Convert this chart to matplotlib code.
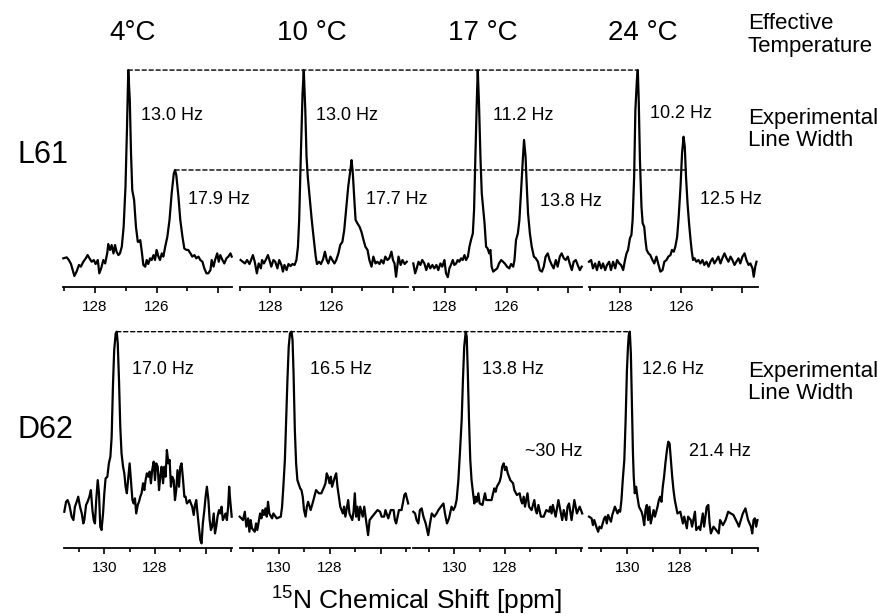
import matplotlib.pyplot as plt
import numpy as np
from matplotlib.patches import ConnectionPatch

plt.rcParams['font.family'] = ['Liberation Sans', 'DejaVu Sans']
plt.rcParams['mathtext.fontset'] = 'custom'
plt.rcParams['mathtext.rm'] = 'Liberation Sans'

# --- labels ---
temperatures = ['4°C', '10 °C', '17 °C', '24 °C']
residues = ['L61', 'D62']
l61_widths = [['13.0 Hz', '17.9 Hz'], ['13.0 Hz', '17.7 Hz'], ['11.2 Hz', '13.8 Hz'], ['10.2 Hz', '12.5 Hz']]
d62_widths = [['17.0 Hz'], ['16.5 Hz'], ['13.8 Hz', '~30 Hz'], ['12.6 Hz', '21.4 Hz']]

# ppm windows of each panel (left, right)
l61_windows = [(129.03, 123.56), (128.97, 123.51), (129.03, 123.57), (129.03, 123.49)]
d62_windows = [(131.58, 124.97), (131.53, 124.87), (131.62, 124.97), (131.46, 125.01)]

# --- spectra, (ppm, intensity) ---
l61_04 = [(129.03, 0.9), (128.92, 1.4), (128.85, 0.0), (128.78, -2.1), (128.74, -4.4), (128.67, -8.4),
          (128.60, -6.1), (128.52, -2.6), (128.46, -3.5), (128.38, -0.9), (128.30, 0.9), (128.24, 2.6),
          (128.18, 0.9), (128.11, -0.9), (128.04, 0.0), (127.98, -2.1), (127.91, 0.0), (127.86, -7.0),
          (127.80, -4.4), (127.73, 0.0), (127.67, -1.8), (127.60, 3.9), (127.57, 8.4), (127.51, 5.3),
          (127.46, 7.9), (127.40, 3.5), (127.35, 7.9), (127.30, 4.4), (127.24, 2.6), (127.19, 3.5),
          (127.13, 7.0), (127.07, 17.5), (127.01, 38.6), (126.96, 70.2), (126.92, 100.0), (126.87, 84.2),
          (126.83, 56.1), (126.79, 36.8), (126.73, 31.6), (126.67, 17.5), (126.61, 9.6), (126.57, 9.6),
          (126.53, 10.5), (126.48, 4.4), (126.43, -2.6), (126.37, -3.5), (126.32, 0.0), (126.27, -2.1),
          (126.21, 0.9), (126.16, 0.0), (126.10, 2.6), (126.05, 0.0), (126.00, 5.3), (125.94, 1.8),
          (125.89, 0.0), (125.83, 3.5), (125.78, 1.8), (125.72, 7.0), (125.65, 12.3), (125.58, 21.1),
          (125.51, 35.1), (125.44, 45.6), (125.40, 47.4), (125.36, 44.7), (125.29, 33.3), (125.23, 21.1),
          (125.16, 12.3), (125.10, 6.1), (125.03, 5.3), (124.97, 5.3), (124.90, 3.5), (124.84, 1.8),
          (124.77, 2.6), (124.71, 0.9), (124.64, 1.8), (124.58, 0.0), (124.51, -0.9), (124.45, -4.4),
          (124.38, -7.0), (124.32, -7.0), (124.25, -5.3), (124.21, 0.0), (124.15, -3.5), (124.10, 0.0),
          (124.03, 3.5), (123.98, -0.9), (123.93, 2.6), (123.86, 0.0), (123.80, -1.8), (123.73, 0.9),
          (123.67, 1.8), (123.60, 3.5), (123.56, 1.8)]

l61_10 = [(128.97, 0.0), (128.90, -0.9), (128.83, -1.8), (128.76, 0.0), (128.68, -2.1), (128.62, 0.4),
          (128.57, 2.6), (128.51, -0.9), (128.44, -7.0), (128.38, -1.8), (128.31, -4.4), (128.27, 0.0),
          (128.21, -1.8), (128.14, 0.4), (128.08, 2.6), (128.03, 0.0), (127.97, -3.5), (127.90, 0.0),
          (127.84, -0.9), (127.77, -4.4), (127.71, 0.0), (127.64, -2.6), (127.59, -6.1), (127.54, -2.6),
          (127.47, -5.3), (127.41, -2.1), (127.34, -3.2), (127.28, -2.1), (127.21, -2.6), (127.15, 0.0),
          (127.10, 7.0), (127.06, 21.1), (127.01, 52.6), (126.95, 87.7), (126.91, 100.0), (126.86, 78.9),
          (126.82, 54.4), (126.78, 43.9), (126.71, 31.6), (126.65, 21.1), (126.58, 10.5), (126.52, 1.8),
          (126.48, -2.1), (126.41, -0.9), (126.35, -2.1), (126.28, 0.4), (126.22, 4.4), (126.16, 0.0),
          (126.11, -1.8), (126.04, 1.8), (125.98, 0.0), (125.91, -1.8), (125.85, 0.0), (125.78, 3.5),
          (125.72, 7.9), (125.65, 9.6), (125.59, 15.8), (125.52, 28.1), (125.46, 38.6), (125.39, 47.4),
          (125.35, 52.6), (125.31, 45.6), (125.26, 31.6), (125.22, 21.1), (125.16, 19.3), (125.09, 17.5),
          (125.03, 14.9), (124.96, 10.5), (124.90, 7.0), (124.83, 5.3), (124.77, 0.0), (124.70, -3.5),
          (124.64, 1.8), (124.57, -1.8), (124.51, -0.9), (124.44, -2.1), (124.38, 0.0), (124.31, -1.8),
          (124.25, 1.8), (124.18, 0.0), (124.12, 0.9), (124.05, 4.4), (124.00, 0.0), (123.95, -1.8),
          (123.90, -8.8), (123.86, -3.5), (123.82, 1.8), (123.75, -2.6), (123.69, 0.0), (123.62, -2.1),
          (123.55, -0.9)]

l61_17 = [(129.03, -1.8), (128.97, -7.0), (128.92, -4.4), (128.86, -0.9), (128.80, -2.6), (128.74, 0.0),
          (128.67, -1.8), (128.61, -5.3), (128.54, -1.8), (128.48, -4.4), (128.41, -2.6), (128.35, -4.4),
          (128.28, -2.6), (128.22, -5.3), (128.15, -1.8), (128.09, -3.5), (128.02, 0.0), (127.97, -7.0),
          (127.91, -9.0), (127.86, -4.4), (127.81, -2.6), (127.75, 0.0), (127.70, -2.6), (127.64, -1.8),
          (127.59, 0.0), (127.54, -0.9), (127.48, 0.9), (127.43, 0.0), (127.37, 2.6), (127.32, 0.0),
          (127.26, 1.8), (127.21, 7.0), (127.16, 10.5), (127.10, 14.0), (127.06, 26.3), (127.02, 52.6),
          (126.97, 84.2), (126.94, 100.0), (126.90, 82.5), (126.85, 52.6), (126.81, 35.1), (126.77, 28.1),
          (126.72, 19.3), (126.67, 7.0), (126.62, 6.1), (126.57, 3.5), (126.53, 5.3), (126.49, -3.5),
          (126.44, -6.1), (126.38, -5.3), (126.31, -4.4), (126.25, -1.8), (126.18, 0.0), (126.12, -0.9),
          (126.05, -2.1), (125.99, -3.5), (125.92, -4.4), (125.86, -2.1), (125.79, -3.5), (125.75, 0.0),
          (125.70, 10.5), (125.64, 14.0), (125.59, 21.1), (125.54, 35.1), (125.48, 52.6), (125.44, 63.2),
          (125.39, 54.4), (125.35, 38.6), (125.31, 24.6), (125.25, 14.0), (125.19, 7.0), (125.12, 1.8),
          (125.06, 0.9), (124.99, -0.9), (124.93, -5.3), (124.86, -6.1), (124.80, -3.5), (124.74, 1.8),
          (124.67, 3.5), (124.61, 0.0), (124.54, -2.6), (124.48, -4.4), (124.41, 0.0), (124.35, -3.5),
          (124.28, 1.8), (124.22, 3.5), (124.15, 0.9), (124.09, 0.0), (124.02, 1.8), (123.96, -1.8),
          (123.89, -5.3), (123.83, -0.9), (123.76, 0.0), (123.70, -2.6), (123.63, -5.3), (123.57, -3.5)]

l61_24 = [(129.03, -0.9), (128.96, 0.0), (128.90, -4.4), (128.83, -1.8), (128.77, -5.3), (128.70, -0.9),
          (128.63, -4.4), (128.57, -1.8), (128.50, -5.3), (128.44, -2.6), (128.37, -0.9), (128.31, -5.3),
          (128.24, -0.9), (128.17, -4.4), (128.11, 0.0), (128.04, -1.8), (127.98, -2.6), (127.91, -5.3),
          (127.85, 0.0), (127.80, 3.5), (127.75, 5.3), (127.69, 11.4), (127.64, 13.2), (127.60, 21.1),
          (127.55, 43.9), (127.51, 78.9), (127.46, 94.7), (127.43, 100.0), (127.40, 84.2), (127.36, 52.6),
          (127.31, 28.1), (127.27, 19.3), (127.22, 17.5), (127.18, 10.5), (127.14, 5.3), (127.08, 3.5),
          (127.02, 2.6), (126.95, 0.0), (126.89, -1.8), (126.82, 1.8), (126.75, -2.6), (126.69, -6.1),
          (126.62, -5.3), (126.56, -0.9), (126.49, 0.0), (126.43, 1.8), (126.36, 2.6), (126.31, 5.3),
          (126.25, 4.4), (126.20, 7.0), (126.14, 12.3), (126.09, 22.8), (126.03, 38.6), (125.98, 56.1),
          (125.93, 64.9), (125.89, 59.6), (125.85, 43.9), (125.80, 29.8), (125.75, 19.3), (125.70, 10.5),
          (125.66, 4.4), (125.62, 0.0), (125.57, 0.9), (125.51, -0.9), (125.44, 0.0), (125.38, -1.8),
          (125.31, 0.0), (125.25, -2.6), (125.18, -0.9), (125.11, -3.5), (125.05, -0.9), (124.98, 0.9),
          (124.92, -1.8), (124.85, 0.0), (124.79, 1.8), (124.72, -1.8), (124.66, 0.9), (124.59, 3.5),
          (124.52, 0.9), (124.46, -0.9), (124.39, 1.8), (124.33, 0.0), (124.26, -2.6), (124.20, -0.9),
          (124.13, 0.9), (124.07, -1.8), (124.00, 1.8), (123.93, 3.5), (123.87, 0.0), (123.80, -2.6),
          (123.74, -1.8), (123.67, -4.4), (123.63, -8.8), (123.58, -3.5), (123.54, -0.9)]

d62_04 = [(131.58, 4.4), (131.51, 9.7), (131.45, 10.6), (131.38, 8.0), (131.29, 1.8), (131.22, 0.0),
          (131.16, 7.1), (131.09, 9.7), (131.03, 12.4), (130.96, 7.1), (130.89, 3.5), (130.83, -1.8),
          (130.79, 0.0), (130.72, 8.0), (130.66, 9.7), (130.59, 12.4), (130.53, 15.9), (130.47, 5.3),
          (130.42, 0.0), (130.37, -1.8), (130.32, 10.6), (130.26, 21.2), (130.21, 14.2), (130.16, -3.5),
          (130.11, -5.3), (130.05, 3.5), (130.00, 14.2), (129.95, 22.1), (129.88, 23.0), (129.82, 30.1),
          (129.76, 33.6), (129.71, 44.2), (129.66, 70.8), (129.61, 90.3), (129.55, 99.1), (129.51, 100.0),
          (129.47, 93.8), (129.42, 74.3), (129.37, 49.6), (129.32, 35.4), (129.26, 28.3), (129.21, 24.8),
          (129.16, 17.7), (129.11, 14.2), (129.05, 23.0), (129.00, 30.1), (128.95, 21.2), (128.89, 10.6),
          (128.84, 8.8), (128.79, 11.5), (128.74, 3.5), (128.68, 8.0), (128.63, 9.7), (128.58, 12.4),
          (128.53, 14.2), (128.47, 19.5), (128.42, 15.9), (128.37, 21.2), (128.32, 24.8), (128.26, 23.0),
          (128.21, 25.7), (128.16, 19.5), (128.11, 26.5), (128.05, 31.0), (128.00, 21.2), (127.95, 30.1),
          (127.89, 28.3), (127.84, 15.9), (127.79, 23.0), (127.74, 28.3), (127.68, 19.5), (127.63, 28.3),
          (127.58, 23.0), (127.53, 37.2), (127.47, 30.1), (127.42, 31.9), (127.37, 17.7), (127.32, 23.0),
          (127.26, 21.2), (127.21, 10.6), (127.16, 15.9), (127.11, 26.5), (127.05, 17.7), (127.00, 28.3),
          (126.95, 30.1), (126.89, 21.2), (126.84, 12.4), (126.79, 12.4), (126.74, 8.8), (126.68, 9.7),
          (126.63, 10.6), (126.58, 8.8), (126.53, 7.1), (126.47, 2.7), (126.42, 8.0), (126.37, 10.6),
          (126.32, 3.5), (126.26, -4.4), (126.21, -10.6), (126.16, -12.4), (126.11, -1.8), (126.05, 5.3),
          (126.00, 12.4), (125.95, 17.7), (125.89, 10.6), (125.84, 0.0), (125.79, -5.3), (125.74, -3.5),
          (125.68, 3.5), (125.63, -7.1), (125.58, -3.5), (125.53, 1.8), (125.47, 5.3), (125.42, 3.5),
          (125.37, 7.1), (125.32, 0.0), (125.26, 1.8), (125.21, 3.5), (125.16, 0.0), (125.11, 7.1),
          (125.07, 17.7), (125.03, 10.6), (124.97, 1.8)]

d62_10 = [(131.53, 1.8), (131.40, 0.0), (131.33, 4.4), (131.27, -3.5), (131.20, 0.9), (131.15, -6.2),
          (131.10, 0.0), (131.05, -4.4), (130.94, -6.2), (130.89, -1.8), (130.84, -5.3), (130.73, 3.5),
          (130.68, 0.9), (130.63, 5.3), (130.58, 2.7), (130.52, 6.2), (130.47, 1.8), (130.42, 9.7),
          (130.37, 3.5), (130.26, 0.9), (130.21, 3.5), (130.08, 0.9), (129.92, 1.8), (129.87, 7.1),
          (129.82, 17.7), (129.76, 31.9), (129.71, 53.1), (129.66, 74.3), (129.61, 92.0), (129.56, 99.1),
          (129.50, 100.0), (129.46, 95.6), (129.42, 77.9), (129.37, 47.8), (129.32, 30.1), (129.27, 21.2),
          (129.16, 16.8), (129.11, 15.9), (129.06, 12.4), (129.01, 5.3), (128.95, 1.8), (128.90, 7.1),
          (128.85, 9.7), (128.75, 5.3), (128.64, 10.6), (128.54, 15.9), (128.43, 14.2), (128.33, 14.2),
          (128.22, 17.7), (128.17, 19.5), (128.12, 24.8), (128.07, 23.0), (128.01, 19.5), (127.96, 23.0),
          (127.91, 17.7), (127.80, 23.0), (127.75, 24.8), (127.70, 17.7), (127.59, 7.1), (127.49, 3.5),
          (127.44, 7.1), (127.39, 1.8), (127.28, 10.6), (127.23, 3.5), (127.12, 0.0), (127.07, 4.4),
          (127.02, 14.2), (126.97, 1.8), (126.92, 7.1), (126.86, 0.0), (126.81, 7.1), (126.71, 1.8),
          (126.65, 7.1), (126.60, 1.8), (126.50, -8.0), (126.44, 0.0), (126.34, 1.8), (126.24, 3.5),
          (126.13, 5.3), (126.03, 4.4), (125.97, 1.8), (125.87, 1.8), (125.82, 5.3), (125.71, 0.9),
          (125.61, 5.3), (125.50, 5.3), (125.45, 0.0), (125.40, -1.8), (125.29, 5.3), (125.19, 5.3),
          (125.14, 8.8), (125.08, 13.3), (125.03, 14.2), (124.93, 8.8)]

d62_17 = [(131.62, 4.4), (131.55, 3.5), (131.49, 0.0), (131.42, -1.8), (131.36, 5.3), (131.29, 6.2),
          (131.22, 1.8), (131.13, -1.8), (131.03, -8.0), (130.96, -1.8), (130.89, 3.5), (130.79, 1.8),
          (130.70, 3.5), (130.63, 5.3), (130.53, 7.1), (130.43, 8.8), (130.37, 3.5), (130.29, -1.8),
          (130.21, 0.9), (130.11, 7.1), (130.04, 5.3), (129.97, 7.1), (129.91, 10.6), (129.84, 21.2),
          (129.78, 35.4), (129.71, 53.1), (129.66, 74.3), (129.61, 92.0), (129.55, 100.0), (129.51, 97.3),
          (129.47, 79.6), (129.42, 53.1), (129.37, 31.9), (129.32, 21.2), (129.26, 14.2), (129.21, 8.8),
          (129.16, 12.4), (129.11, 9.7), (129.05, 14.2), (129.00, 8.8), (128.89, 8.0), (128.79, 14.2),
          (128.74, 10.6), (128.63, 10.6), (128.53, 10.6), (128.47, 14.2), (128.42, 16.8), (128.37, 15.0),
          (128.32, 17.7), (128.21, 20.4), (128.16, 23.0), (128.11, 28.3), (128.05, 30.1), (128.00, 26.5),
          (127.95, 28.3), (127.89, 24.8), (127.79, 21.2), (127.68, 19.5), (127.63, 15.9), (127.53, 13.3),
          (127.42, 14.2), (127.37, 10.6), (127.32, 8.8), (127.26, 12.4), (127.21, 7.1), (127.11, 14.2),
          (127.05, 7.1), (126.95, 5.3), (126.84, 10.6), (126.79, 5.3), (126.74, 3.5), (126.68, 8.0),
          (126.58, 1.8), (126.47, 1.8), (126.37, 5.3), (126.26, 4.4), (126.21, 7.1), (126.16, 3.5),
          (126.11, 8.0), (126.00, 1.8), (125.89, 10.6), (125.79, 3.5), (125.74, 0.0), (125.68, 5.3),
          (125.58, 0.0), (125.53, 7.1), (125.47, 8.8), (125.37, 0.0), (125.26, 10.6), (125.16, 3.5),
          (125.05, 7.1), (124.95, 3.5)]

d62_24 = [(131.46, 1.8), (131.36, 0.9), (131.31, -2.7), (131.26, 0.0), (131.16, -4.4), (131.11, -6.2),
          (131.06, -3.5), (130.99, -4.4), (130.88, 0.9), (130.83, 1.8), (130.78, -1.8), (130.73, 2.7),
          (130.62, -0.9), (130.57, 2.7), (130.47, 7.1), (130.37, 3.5), (130.32, 5.3), (130.27, 4.4),
          (130.22, 10.6), (130.17, 21.2), (130.11, 31.9), (130.06, 53.1), (130.01, 79.6), (129.97, 92.0),
          (129.94, 98.2), (129.90, 100.0), (129.86, 88.5), (129.82, 61.9), (129.78, 35.4), (129.75, 23.0),
          (129.71, 14.2), (129.66, 17.7), (129.61, 12.4), (129.55, 7.1), (129.45, 4.4), (129.40, 1.8),
          (129.35, -2.7), (129.30, 5.3), (129.25, 8.0), (129.20, 0.0), (129.15, 7.1), (129.10, -1.8),
          (128.99, 5.3), (128.94, 1.8), (128.84, 7.1), (128.79, 10.6), (128.74, 12.4), (128.69, 9.7),
          (128.64, 17.7), (128.59, 23.0), (128.54, 30.1), (128.48, 37.2), (128.43, 41.6), (128.38, 40.7),
          (128.33, 31.9), (128.28, 23.0), (128.23, 15.9), (128.18, 10.6), (128.13, 7.1), (128.08, 3.5),
          (127.97, 4.4), (127.87, -1.8), (127.82, 1.8), (127.72, -4.4), (127.67, 1.8), (127.57, 0.0),
          (127.52, -3.5), (127.41, 4.4), (127.36, -5.3), (127.26, -3.5), (127.21, -5.3), (127.11, 3.5),
          (127.06, -3.5), (126.96, 7.1), (126.90, 8.0), (126.85, -1.8), (126.80, -7.1), (126.70, -3.5),
          (126.60, -5.3), (126.50, -7.1), (126.45, 0.0), (126.34, -2.7), (126.24, 0.0), (126.14, 4.4),
          (126.04, 3.5), (125.94, 2.7), (125.78, -1.8), (125.73, -3.5), (125.58, 3.5), (125.48, 6.2),
          (125.38, 0.0), (125.27, -3.5), (125.22, -7.1), (125.17, 0.0), (125.12, 0.9), (125.07, -3.5),
          (125.02, 0.0)]

l61_spectra = [l61_04, l61_10, l61_17, l61_24]
d62_spectra = [d62_04, d62_10, d62_17, d62_24]

# --- layout (figure pixels) ---
W, H = 879, 616


def rect(l, t, r, b):
    return [l / W, 1 - b / H, (r - l) / W, (b - t) / H]


def px(x, y):
    return x / W, 1 - y / H


fig = plt.figure(figsize=(W / 100, H / 100), dpi=100)

top_cols = [(63.3, 231.7), (239.7, 408.0), (413.3, 581.7), (589.0, 758.0)]
bot_cols = [(64.3, 231.7), (239.7, 409.7), (413.3, 581.7), (589.0, 758.0)]


def draw_panel(cols, top, bottom, window, ylim, spec, major, minor, labels):
    ax = fig.add_axes(rect(cols[0], top, cols[1], bottom))
    x, y = np.array(spec).T
    ax.plot(x, y, color='black', lw=1.6, clip_on=False)
    ax.set_xlim(window)
    ax.set_ylim(ylim)
    ax.patch.set_visible(False)
    for s in ['left', 'right', 'top']:
        ax.spines[s].set_visible(False)
    ax.spines['bottom'].set_linewidth(1.3)
    ax.set_yticks([])
    ax.set_xticks(major, labels)
    ax.set_xticks(minor, minor=True)
    ax.tick_params(axis='x', which='major', length=4, width=1.2, labelsize=11, pad=5.5)
    ax.tick_params(axis='x', which='minor', length=3, width=1.2)
    return ax


top_axes = []
for i in range(4):
    top_axes.append(draw_panel(top_cols[i], 60, 287, l61_windows[i], (-14.2, 105.3), l61_spectra[i],
                               [128, 126, 124], [129, 127, 125], ['128', '126', '']))
bot_axes = []
for i in range(4):
    bot_axes.append(draw_panel(bot_cols[i], 320, 548.3, d62_windows[i], (-15.0, 106.2), d62_spectra[i],
                               [130, 128, 126], [131, 129, 127, 125], ['130', '128', '']))


def apex(spec, lo=None):
    arr = np.array(spec)
    if lo is not None:
        arr = arr[arr[:, 0] < lo]
    return tuple(arr[np.argmax(arr[:, 1])])


def dashed(axA, pA, axB, pB):
    con = ConnectionPatch(xyA=pA, coordsA=axA.transData, xyB=pB, coordsB=axB.transData,
                          color='black', lw=1.0, ls=(0, (3, 2)))
    fig.add_artist(con)


# reference lines between the first and last temperature
dashed(top_axes[0], apex(l61_04), top_axes[3], apex(l61_24))
p2 = apex(l61_04, lo=126)
dashed(top_axes[0], p2, top_axes[3], (125.78, p2[1]))
dashed(bot_axes[0], apex(d62_04), bot_axes[3], apex(d62_24))

# temperatures
for t, xp in zip(temperatures, [133, 312, 483, 643]):
    fig.text(*px(xp, 33), t, fontsize=20, ha='center', va='center')

# residue names
fig.text(*px(17, 155), residues[0], fontsize=22, ha='left', va='center')
fig.text(*px(17, 430), residues[1], fontsize=22, ha='left', va='center')

# line widths
l61_pos = [[(141, 116), (188, 199)], [(316, 115), (366, 200)], [(493, 115), (540, 202)], [(650, 114), (700, 200)]]
d62_pos = [[(132, 370)], [(310, 370)], [(482, 370), (525, 452)], [(642, 369), (689, 452)]]
for labs, poss in zip(l61_widths + d62_widths, l61_pos + d62_pos):
    for lab, (xp, yp) in zip(labs, poss):
        fig.text(*px(xp, yp), lab, fontsize=13, ha='left', va='center')

# right-hand captions
fig.text(*px(748, 35), 'Effective\nTemperature', fontsize=16, ha='left', va='center', linespacing=1.08)
fig.text(*px(748, 129.5), 'Experimental\nLine Width', fontsize=16, ha='left', va='center', linespacing=1.08)
fig.text(*px(748, 382.5), 'Experimental\nLine Width', fontsize=16, ha='left', va='center', linespacing=1.08)

# x axis title
fig.text(*px(417, 600), r'$^{15}$N Chemical Shift [ppm]', fontsize=19, ha='center', va='center')

fig.savefig('out.png', dpi=100)
